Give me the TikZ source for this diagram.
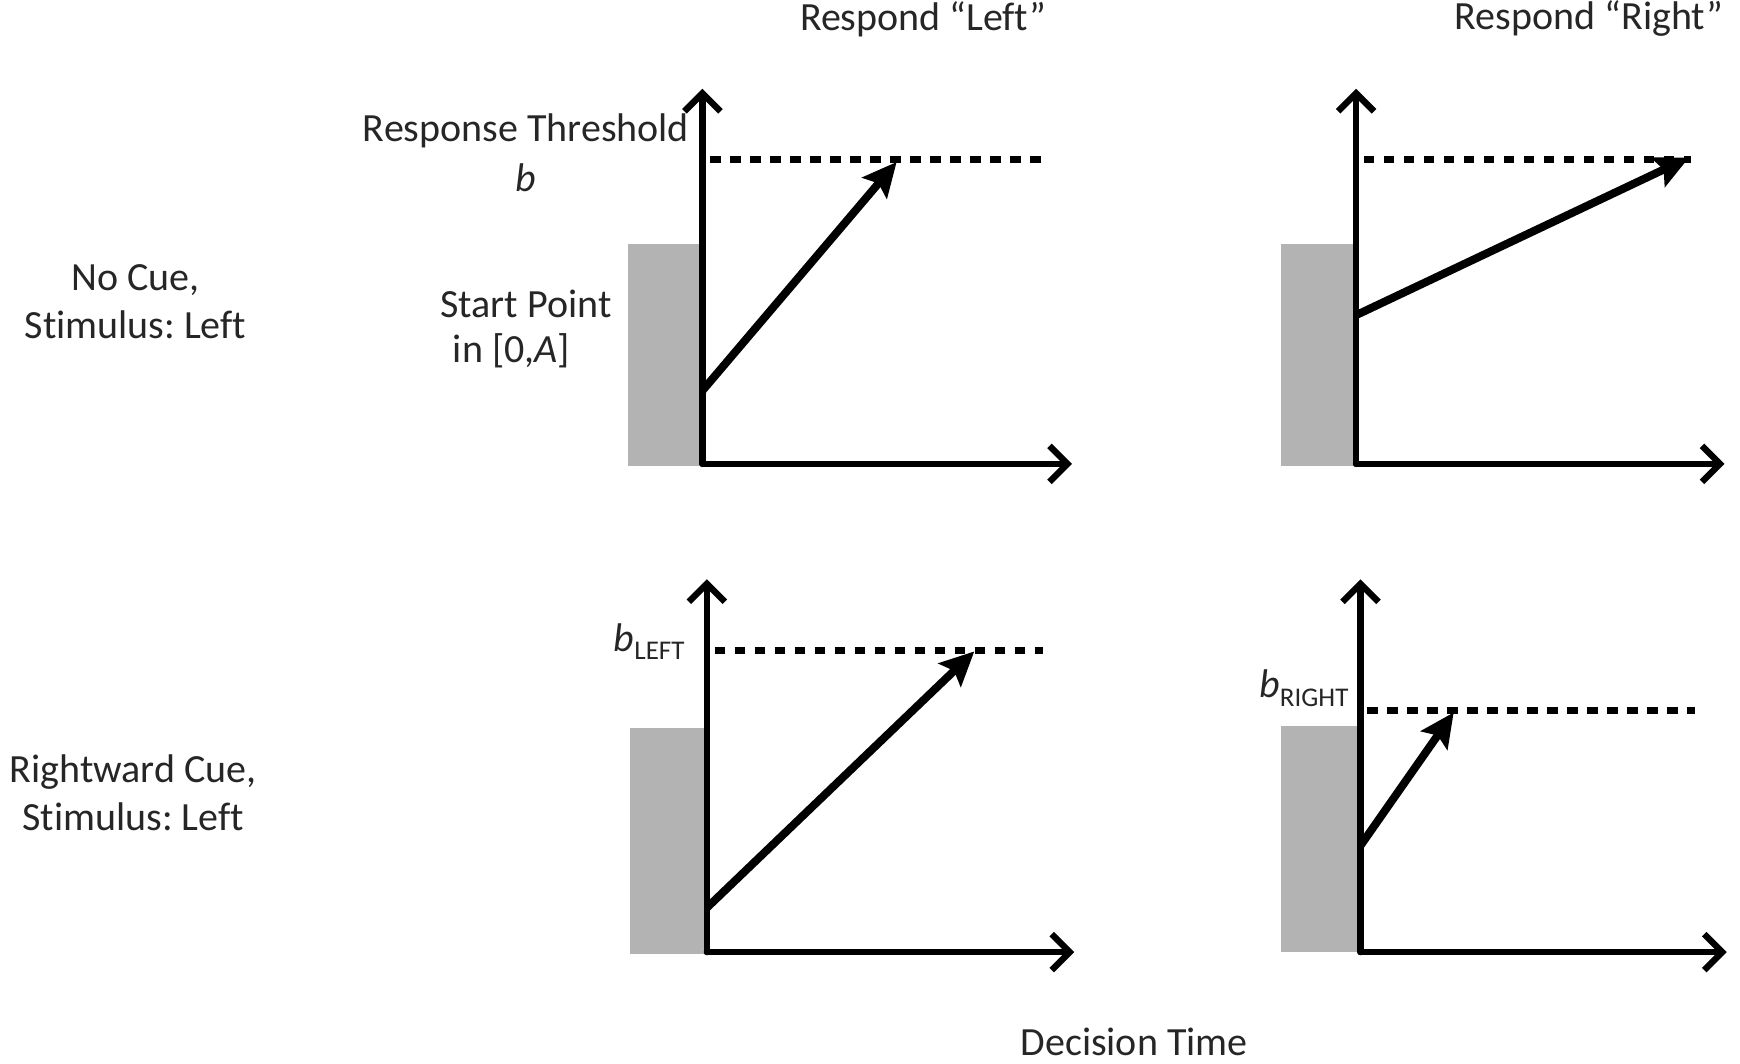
\documentclass[tikz,border=0pt]{standalone}
\usepackage{fontspec}
\setmainfont{Carlito}[Ligatures=NoCommon]
\usetikzlibrary{arrows.meta}
\definecolor{startgray}{HTML}{B3B3B3}
\tikzset{
  x=0.5549pt, y=-0.5549pt,
  lbl/.style={inner sep=0pt, font=\fontsize{20}{24}\selectfont, text=black!85, align=center},
  sublbl/.style={inner sep=0pt, font=\fontsize{20}{24}\selectfont, text=black!85},
  axis/.style={line width=3.2pt, line cap=round, -{Straight Barb[length=9pt,width=18pt,line width=3.2pt]}},
  drift/.style={line width=4pt, -{Stealth[length=17pt,width=16pt,inset=3pt]}},
  thresh/.style={line width=3.6pt, dash pattern=on 5.2pt off 4.8pt},
  startbox/.style={fill=startgray, draw=none},
}
\begin{document}
\frenchspacing
\begin{tikzpicture}
\useasboundingbox (0,0) rectangle (1568,958);
% column titles
\node[lbl] (tL) at (832,17) {Respond “Left”};
\node[lbl] (tR) at (1432,17) {Respond “Right”};
% row titles
\node[lbl] (r1) at (122,272) {No Cue,\\Stimulus: Left};
\node[lbl] (r2) at (120,714) {Rightward Cue,\\Stimulus: Left};
\node[lbl] (xl) at (1022,939) {Decision Time};

% ---------- panel top-left ----------
\fill[startbox] (566,220) rectangle (633,420);
\coordinate (o1) at (633,418);
\coordinate (y1) at (633,80);
\coordinate (x1) at (966,418);
\coordinate (d1a) at (640,144);
\coordinate (d1b) at (938,144);
\coordinate (s1) at (633,352);
\coordinate (e1) at (808,146);
\draw[thresh] (d1a) -- (d1b);
\draw[axis] (o1) -- (y1);
\draw[axis] (o1) -- (x1);
\draw[drift] (s1) -- (e1);
\node[lbl] (rt) at (474,118) {Response Threshold};
\node[lbl] (bb) at (474,160) {\itshape b};
\node[lbl] (sp) at (474,274) {Start Point};
\node[lbl] (sp2) at (461,316) {in [0,\textit{A}]};

% ---------- panel top-right ----------
\fill[startbox] (1154,220) rectangle (1222,420);
\coordinate (o2) at (1222,418);
\coordinate (y2) at (1222,80);
\coordinate (x2) at (1554,418);
\coordinate (d2a) at (1229,144);
\coordinate (d2b) at (1524,144);
\coordinate (s2) at (1222,284);
\coordinate (e2) at (1522,142);
\draw[thresh] (d2a) -- (d2b);
\draw[axis] (o2) -- (y2);
\draw[axis] (o2) -- (x2);
\draw[drift] (s2) -- (e2);

% ---------- panel bottom-left ----------
\fill[startbox] (568,656) rectangle (637,860);
\coordinate (o3) at (637,858);
\coordinate (y3) at (637,522);
\coordinate (x3) at (968,858);
\coordinate (d3a) at (644,586);
\coordinate (d3b) at (940,586);
\coordinate (s3) at (637,818);
\coordinate (e3) at (878,587);
\draw[thresh] (d3a) -- (d3b);
\draw[axis] (o3) -- (y3);
\draw[axis] (o3) -- (x3);
\draw[drift] (s3) -- (e3);
\node[sublbl] (bl) at (585,578) {\textit{b}\raisebox{-0.45ex}{\fontsize{13.5}{15}\selectfont LEFT}};

% ---------- panel bottom-right ----------
\fill[startbox] (1154,654) rectangle (1226,858);
\coordinate (o4) at (1226,858);
\coordinate (y4) at (1226,522);
\coordinate (x4) at (1556,858);
\coordinate (d4a) at (1232,640);
\coordinate (d4b) at (1527,640);
\coordinate (s4) at (1226,762);
\coordinate (e4) at (1310,642);
\draw[thresh] (d4a) -- (d4b);
\draw[axis] (o4) -- (y4);
\draw[axis] (o4) -- (x4);
\draw[drift] (s4) -- (e4);
\node[sublbl] (br) at (1175,620) {\textit{b}\raisebox{-0.45ex}{\fontsize{13.5}{15}\selectfont RIGHT}};
\end{tikzpicture}
\end{document}
